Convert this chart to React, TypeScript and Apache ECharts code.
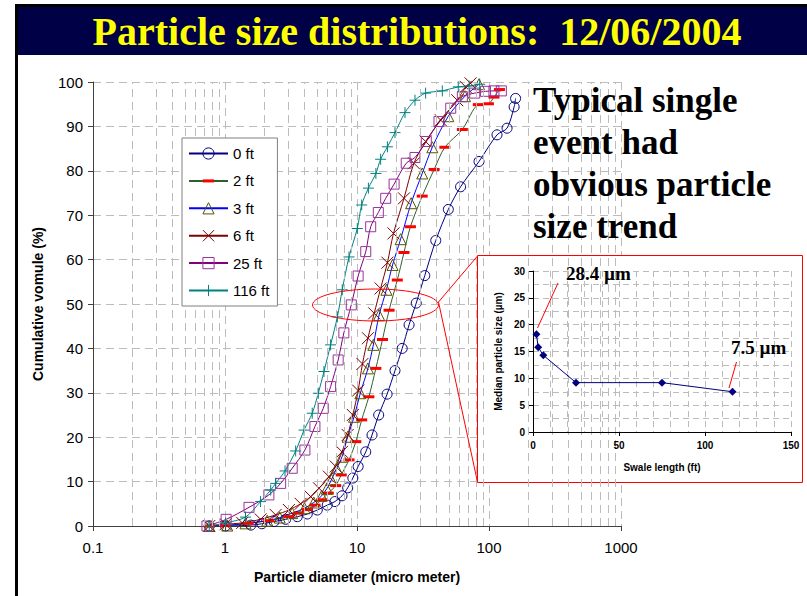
import React, { useEffect, useRef } from 'react';
import * as echarts from 'echarts';

// ---------- data ----------
const seriesNames = ['0 ft', '2 ft', '3 ft', '6 ft', '25 ft', '116 ft'];

const diam0 = [0.76, 1.01, 1.57, 1.9, 2.35, 2.88, 3.53, 4.2, 5.0, 5.95, 6.8, 7.7, 8.5, 9.3, 10.2, 11.65, 13.0, 14.6, 16.9, 19.4, 22.0, 24.8, 28.1, 32.6, 39.5, 49.2, 60.9, 84, 115, 137, 155, 159];
const cum0 = [0, 0, 0.2, 0.5, 1.0, 1.5, 2.1, 2.7, 3.6, 4.7, 5.5, 6.8, 8.6, 10.8, 13.4, 16.7, 20.5, 25.0, 29.7, 35.0, 40.0, 45.3, 50.2, 56.4, 64.3, 71.3, 76.4, 82.1, 88.1, 89.6, 94.4, 96.3];

const diam2 = [0.76, 1.01, 1.5, 2.15, 3.05, 3.6, 4.2, 4.8, 5.4, 6.06, 6.9, 7.6, 8.7, 9.8, 10.85, 12.3, 13.9, 15.6, 17.5, 20.2, 22.7, 25.4, 31.2, 38.4, 46.3, 62.8, 83, 99, 109, 120];
const cum2 = [0, 0.1, 0.6, 1.2, 2.1, 2.9, 3.7, 4.7, 5.9, 7.4, 9.1, 11.5, 14.9, 19.0, 23.9, 29.1, 35.5, 42.0, 48.6, 55.4, 61.6, 67.4, 74.3, 80.3, 85.3, 89.3, 94.9, 95.1, 96.6, 98.3];

const diam3 = [0.76, 1.04, 1.43, 2.09, 2.6, 3.23, 4.0, 4.7, 5.4, 5.9, 6.4, 7.0, 7.7, 8.5, 9.5, 10.6, 12.1, 13.3, 14.7, 16.7, 18.6, 21.4, 25.7, 31.2, 37.2, 49.2, 65.8, 84];
const cum3 = [0, 0.1, 0.6, 1.2, 1.9, 2.9, 4.0, 5.3, 6.8, 8.4, 10.4, 13.0, 15.6, 20.1, 24.6, 29.9, 35.5, 40.8, 47.5, 53.2, 58.8, 64.6, 72.7, 79.4, 85.3, 92.3, 96.8, 99.5];

const diam6 = [0.76, 1.01, 1.35, 1.86, 2.42, 3.05, 3.74, 4.46, 5.15, 6.13, 6.9, 7.7, 8.5, 9.3, 10.2, 11.0, 12.1, 13.5, 15.1, 17.0, 18.9, 22.7, 27.0, 33.1, 43.1, 57.4, 66.6, 72.5];
const cum6 = [0, 0.4, 0.7, 1.5, 2.5, 3.6, 5.0, 6.6, 8.5, 11.1, 13.4, 16.7, 20.5, 25.0, 30.5, 36.5, 42.3, 47.9, 53.5, 59.3, 65.9, 73.8, 81.7, 86.6, 91.4, 95.9, 98.9, 99.7];

const diam25 = [0.73, 1.02, 1.52, 2.15, 2.64, 3.23, 4.03, 4.8, 5.55, 6.31, 7.2, 7.95, 9.05, 10.2, 11.65, 12.7, 14.5, 16.5, 19.1, 23.6, 27.5, 33.5, 41.8, 51.3, 62.8, 78, 94, 109, 124];
const cum25 = [0, 1.5, 4.2, 7.0, 9.6, 13.0, 17.1, 22.4, 26.5, 31.4, 37.4, 43.5, 49.8, 56.3, 61.8, 67.4, 70.6, 73.8, 77.0, 81.7, 83.0, 86.6, 91.1, 94.1, 96.7, 97.5, 97.9, 98.0, 98.0];

const diam116 = [0.76, 1.01, 1.43, 1.86, 2.22, 2.42, 2.85, 3.43, 3.97, 4.58, 5.09, 5.62, 6.31, 7.1, 7.73, 8.7, 10.05, 10.85, 12.2, 13.9, 15.1, 17.0, 19.4, 23.1, 27.5, 33.1, 44.3, 58.5, 70.5, 85];
const cum116 = [0, 0.7, 2.0, 5.5, 8.1, 9.6, 12.4, 16.9, 21.6, 25.4, 29.9, 34.8, 40.8, 47.1, 53.2, 60.6, 67.0, 72.3, 76.1, 79.4, 82.6, 85.4, 88.6, 93.1, 95.9, 97.5, 98.0, 98.9, 99.1, 99.5];

// log-axis minor grid positions (2..9 within each decade)
const minorGridX = [0.2, 0.3, 0.4, 0.5, 0.6, 0.7, 0.8, 0.9, 2, 3, 4, 5, 6, 7, 8, 9, 20, 30, 40, 50, 60, 70, 80, 90, 200, 300, 400, 500, 600, 700, 800, 900];

// inset: median particle size vs swale length
const swaleLength = [2, 3, 6, 25, 75, 116];
const medianSize = [18.2, 15.8, 14.3, 9.2, 9.2, 7.5];

const titleText = 'Particle size distributions:  12/06/2004';
const sideText = 'Typical single\nevent had\nobvious particle\nsize trend';
const noteHigh = '28.4 \u00b5m';
const noteLow = '7.5 \u00b5m';

// ---------- helpers ----------
const SANS = '"Liberation Sans", Arial, sans-serif';
const SERIF = '"Liberation Serif", "Times New Roman", serif';
const pairs = (d: number[], v: number[]) => d.map((x, i) => [x, v[i]]);

const SYM_X = 'path://M0 0L10 10M10 0L0 10';
const SYM_PLUS = 'path://M5 0V10M0 5H10';
const SYM_DASH = 'path://M0 0L0 0M11 11L11 11M0 4H11V7H0Z';

const gridDash = { type: [8, 5] as any, color: '#bcbcbc', width: 1 };

function mainLine(name: string, data: number[][], lineColor: string, symbol: string, symbolSize: number, itemStyle: any) {
  return {
    type: 'line',
    name,
    data,
    xAxisIndex: 0,
    yAxisIndex: 0,
    smooth: 0.3,
    symbol,
    symbolSize,
    showAllSymbol: true,
    lineStyle: { color: lineColor, width: 1 },
    itemStyle,
    z: 3,
    emphasis: { disabled: true },
  };
}

export default function App() {
  const ref = useRef<HTMLDivElement>(null);

  useEffect(() => {
    if (!ref.current) return;
    const chart = echarts.init(ref.current, undefined, { renderer: 'svg' });

    const option: any = {
      animation: false,
      backgroundColor: '#ffffff',
      textStyle: { fontFamily: SANS },
      grid: [
        { left: 93, top: 82, width: 528, height: 444 },
        { left: 533, top: 271, width: 258, height: 161 },
      ],
      xAxis: [
        {
          gridIndex: 0,
          type: 'log',
          logBase: 10,
          min: 0.1,
          max: 1000,
          axisLine: { lineStyle: { color: '#404040', width: 1 } },
          axisTick: { show: true, length: 5, lineStyle: { color: '#404040' } },
          axisLabel: { fontSize: 15, color: '#000', margin: 14, fontFamily: SANS, formatter: (v: number) => String(v) },
          splitLine: { show: true, lineStyle: gridDash },
          name: 'Particle diameter (micro meter)',
          nameLocation: 'middle',
          nameGap: 44,
          nameTextStyle: { fontSize: 14, fontWeight: 'bold', color: '#000', fontFamily: SANS },
          z: 0,
        },
        {
          gridIndex: 1,
          type: 'value',
          min: 0,
          max: 150,
          interval: 50,
          axisLine: { lineStyle: { color: '#000', width: 1 } },
          axisTick: { show: true, length: 4, lineStyle: { color: '#000' } },
          axisLabel: { fontSize: 10, fontWeight: 'bold', color: '#000', margin: 8, fontFamily: SANS },
          splitLine: { show: true, lineStyle: { type: [6, 4], color: '#bcbcbc', width: 1 } },
          minorTick: { show: false, splitNumber: 5 },
          minorSplitLine: { show: true, lineStyle: { type: [6, 4], color: '#bcbcbc', width: 1 } },
          name: 'Swale length (ft)',
          nameLocation: 'middle',
          nameGap: 30,
          nameTextStyle: { fontSize: 10, fontWeight: 'bold', color: '#000', fontFamily: SANS },
          z: 10,
        },
      ],
      yAxis: [
        {
          gridIndex: 0,
          type: 'value',
          min: 0,
          max: 100,
          interval: 10,
          axisLine: { show: true, lineStyle: { color: '#404040', width: 1 } },
          axisTick: { show: true, length: 5, lineStyle: { color: '#404040' } },
          axisLabel: { fontSize: 15, color: '#000', margin: 10, fontFamily: SANS },
          splitLine: { show: true, lineStyle: gridDash },
          name: 'Cumulative vomule (%)',
          nameLocation: 'middle',
          nameGap: 48,
          nameTextStyle: { fontSize: 14, fontWeight: 'bold', color: '#000', fontFamily: SANS },
          z: 0,
        },
        {
          gridIndex: 1,
          type: 'value',
          min: 0,
          max: 30,
          interval: 5,
          axisLine: { show: true, lineStyle: { color: '#000', width: 1 } },
          axisTick: { show: true, length: 4, lineStyle: { color: '#000' } },
          axisLabel: { fontSize: 10, fontWeight: 'bold', color: '#000', margin: 8, fontFamily: SANS },
          splitLine: { show: true, lineStyle: { type: [6, 4], color: '#bcbcbc', width: 1 } },
          minorTick: { show: false, splitNumber: 2 },
          minorSplitLine: { show: true, lineStyle: { type: [6, 4], color: '#bcbcbc', width: 1 } },
          name: 'Median particle size (\u00b5m)',
          nameLocation: 'middle',
          nameGap: 30,
          nameTextStyle: { fontSize: 10, fontWeight: 'bold', color: '#000', fontFamily: SANS },
          z: 10,
        },
      ],
      legend: {
        orient: 'vertical',
        left: 182,
        top: 138,
        padding: [8, 8, 8, 6],
        itemWidth: 39,
        itemHeight: 14,
        itemGap: 12.4,
        backgroundColor: '#ffffff',
        borderColor: '#808080',
        borderWidth: 1,
        borderRadius: 0,
        textStyle: { fontSize: 15, color: '#000', fontFamily: SANS },
        itemStyle: { borderWidth: 1 },
        data: [
          seriesNames[0],
          { name: seriesNames[1], itemStyle: { borderWidth: 0 } },
          seriesNames[2],
          seriesNames[3],
          seriesNames[4],
          seriesNames[5],
        ],
        selectedMode: false,
        z: 6,
      },
      series: [
        {
          type: 'line',
          name: '__minor_grid__',
          xAxisIndex: 0,
          yAxisIndex: 0,
          data: [],
          z: 1,
          silent: true,
          markLine: {
            silent: true,
            symbol: ['none', 'none'],
            label: { show: false },
            lineStyle: gridDash,
            emphasis: { disabled: true },
            data: minorGridX.map((v) => ({ xAxis: v })),
          },
        },
        mainLine(seriesNames[0], pairs(diam0, cum0), '#000080', 'circle', 10,
          { color: 'transparent', borderColor: '#000080', borderWidth: 1 }),
        mainLine(seriesNames[1], pairs(diam2, cum2), '#2f5f2f', SYM_DASH, 11,
          { color: '#ff0000', borderWidth: 0 }),
        mainLine(seriesNames[2], pairs(diam3, cum3), '#0000ff', 'triangle', 11,
          { color: 'transparent', borderColor: '#555500', borderWidth: 1 }),
        mainLine(seriesNames[3], pairs(diam6, cum6), '#800000', SYM_X, 12,
          { color: 'transparent', borderColor: '#800000', borderWidth: 1 }),
        mainLine(seriesNames[4], pairs(diam25, cum25), '#800080', 'rect', 10,
          { color: 'transparent', borderColor: '#993399', borderWidth: 1 }),
        mainLine(seriesNames[5], pairs(diam116, cum116), '#008080', SYM_PLUS, 11,
          { color: 'transparent', borderColor: '#008080', borderWidth: 1 }),
        {
          type: 'line',
          name: 'Median',
          xAxisIndex: 1,
          yAxisIndex: 1,
          data: swaleLength.map((x, i) => [x, medianSize[i]]),
          symbol: 'diamond',
          symbolSize: 8,
          lineStyle: { color: '#000080', width: 1 },
          itemStyle: { color: '#000080' },
          z: 11,
          emphasis: { disabled: true },
        },
      ],
      graphic: [
        // slide frame and title band
        { type: 'rect', z: 20, shape: { x: 15, y: 4, width: 792, height: 3 }, style: { fill: '#000000' } },
        { type: 'rect', z: 20, shape: { x: 15, y: 4, width: 3, height: 592 }, style: { fill: '#000000' } },
        { type: 'rect', z: 20, shape: { x: 18, y: 7, width: 789, height: 48 }, style: { fill: '#000046' } },
        {
          type: 'text', z: 21, x: 417, y: 31,
          style: { text: titleText, font: `bold 40px ${SERIF}`, fill: '#ffff00', align: 'center', verticalAlign: 'middle' },
        },
        // side text
        {
          type: 'text', z: 6, x: 533, y: 79,
          style: { text: sideText, font: `bold 35px ${SERIF}`, lineHeight: 42, fill: '#000000', align: 'left', verticalAlign: 'top' },
        },
        // inset panel
        { type: 'rect', z: 5, shape: { x: 477.5, y: 255.5, width: 325, height: 227 }, style: { fill: '#ffffff', stroke: '#ff0000', lineWidth: 1 } },
        // ellipse and connectors
        { type: 'ellipse', z: 6, shape: { cx: 375.5, cy: 305, rx: 63, ry: 16 }, style: { fill: 'none', stroke: '#ff0000', lineWidth: 1 } },
        { type: 'line', z: 6, shape: { x1: 438.5, y1: 302, x2: 477.5, y2: 256 }, style: { stroke: '#ff0000', lineWidth: 1 } },
        { type: 'line', z: 6, shape: { x1: 438.5, y1: 302, x2: 477.5, y2: 482 }, style: { stroke: '#ff0000', lineWidth: 1 } },
        // inset annotations
        { type: 'line', z: 12, shape: { x1: 537.5, y1: 328, x2: 558, y2: 283 }, style: { stroke: '#ff0000', lineWidth: 1 } },
        { type: 'line', z: 12, shape: { x1: 729, y1: 388, x2: 736.5, y2: 362 }, style: { stroke: '#ff0000', lineWidth: 1 } },
        {
          type: 'text', z: 12, x: 566, y: 273,
          style: { text: noteHigh, font: `bold 19px ${SERIF}`, fill: '#000', align: 'left', verticalAlign: 'middle' },
        },
        {
          type: 'text', z: 12, x: 731, y: 347,
          style: { text: noteLow, font: `bold 19px ${SERIF}`, fill: '#000', align: 'left', verticalAlign: 'middle' },
        },
      ],
    };

    chart.setOption(option);
    return () => chart.dispose();
  }, []);

  return <div ref={ref} style={{ position: 'fixed', left: 0, top: 0, width: 807, height: 596 }} />;
}
